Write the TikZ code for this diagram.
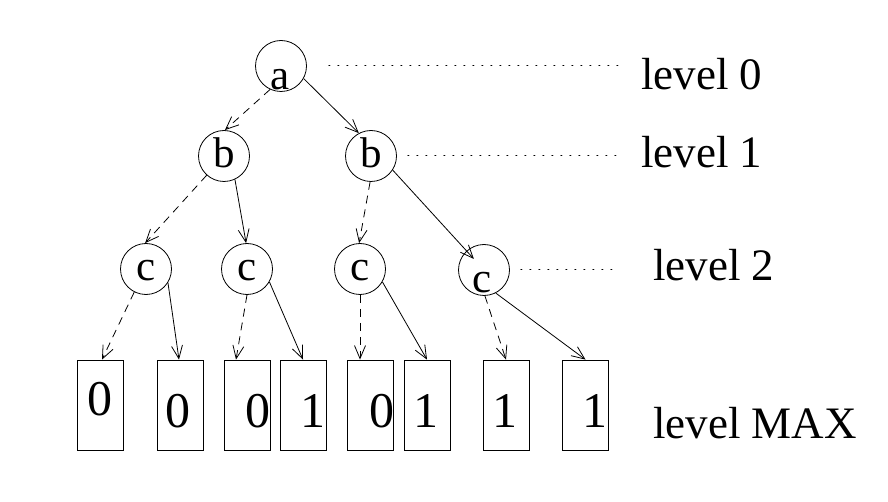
\documentclass[tikz,border=0pt]{standalone}
\usepackage{fontspec}
\setmainfont{Liberation Serif}
\usetikzlibrary{arrows.meta}

\tikzset{
  treenode/.style={draw, circle, minimum size=51pt, inner sep=0pt, line width=0.8pt},
  leafbox/.style={draw, rectangle, minimum width=46pt, minimum height=90pt, inner sep=0pt, line width=0.8pt},
  nodetext/.style={anchor=base, inner sep=0pt, font=\fontsize{43}{43}\selectfont},
  bittext/.style={anchor=base, inner sep=0pt, font=\fontsize{50}{50}\selectfont},
  leveltext/.style={anchor=base west, inner sep=0pt, font=\fontsize{45}{45}\selectfont},
  edge/.style={line width=0.8pt, -{Straight Barb[length=13pt, width=11pt, line width=0.8pt]}},
  zeroedge/.style={edge, dash pattern=on 8pt off 6pt},
  oneedge/.style={edge},
  levelline/.style={line width=1pt, dash pattern=on 1pt off 8pt, line cap=round}
}

\begin{document}
\begin{tikzpicture}[x=1pt, y=-1pt]
  \useasboundingbox (0,0) rectangle (888,502);

  % decision tree nodes
  \node[treenode] (a)  at (281,66)  {};
  \node[treenode] (b1) at (224,156) {};
  \node[treenode] (b2) at (371,156) {};
  \node[treenode] (c1) at (146,269) {};
  \node[treenode] (c2) at (247,269) {};
  \node[treenode] (c3) at (360,269) {};
  \node[treenode] (c4) at (484,270) {};

  \node[nodetext] (ta)  at (280,90)  {a};
  \node[nodetext] (tb1) at (224,168) {b};
  \node[nodetext] (tb2) at (371,168) {b};
  \node[nodetext] (tc1) at (146,281) {c};
  \node[nodetext] (tc2) at (247,281) {c};
  \node[nodetext] (tc3) at (360,281) {c};
  \node[nodetext] (tc4) at (482,293) {c};

  % terminal boxes
  \node[leafbox] (L1) at (100,405)   {};
  \node[leafbox] (L2) at (180,405)   {};
  \node[leafbox] (L3) at (247,405)   {};
  \node[leafbox] (L4) at (303,405)   {};
  \node[leafbox] (L5) at (370.5,405) {};
  \node[leafbox] (L6) at (427,405)   {};
  \node[leafbox] (L7) at (506,405)   {};
  \node[leafbox] (L8) at (585.5,405) {};

  \node[bittext] (v1) at (99.5,415) {0};
  \node[bittext] (v2) at (178,427)  {0};
  \node[bittext] (v3) at (257.5,427) {0};
  \node[bittext] (v4) at (313,427)  {1};
  \node[bittext] (v5) at (381.5,427) {0};
  \node[bittext] (v6) at (425.5,427) {1};
  \node[bittext] (v7) at (504.5,427) {1};
  \node[bittext] (v8) at (594.5,427) {1};

  % level labels
  \node[leveltext] (lab0) at (641,90)  {level 0};
  \node[leveltext] (lab1) at (641,168) {level 1};
  \node[leveltext] (lab2) at (653,281) {level 2};
  \node[leveltext] (labM) at (653,438) {level MAX};

  % dotted guides to the labels
  \draw[levelline] ([xshift=22pt]a.east)  -- ([xshift=-16pt]lab0.west |- a.east);
  \draw[levelline] ([xshift=11pt]b2.east) -- ([xshift=-21pt]lab1.west |- b2.east);
  \draw[levelline] ([xshift=11pt]c4.east) -- ([xshift=-41pt]lab2.west |- c4.east);

  % edges: dashed = 0 branch, solid = 1 branch
  \draw[zeroedge] (a.245)  -- (b1.88);
  \draw[oneedge]  (a.-29)  -- (b2.118);

  \draw[zeroedge] (b1.228) -- (c1.92);
  \draw[oneedge]  (b1.-65) -- (c2.92);
  \draw[zeroedge] (b2.-92) -- (c3.92);
  \draw[oneedge, shorten >=15pt] (b2.-33) -- (c4.center);

  \draw[zeroedge] (c1.243) -- ([xshift=2pt]L1.north);
  \draw[oneedge]  (c1.-32) -- ([xshift=-1pt]L2.north);
  \draw[zeroedge] (c2.-90) -- ([xshift=-11pt]L3.north);
  \draw[oneedge]  (c2.-30) -- (L4.north);
  \draw[zeroedge] (c3.-90) -- ([xshift=-10.5pt]L5.north);
  \draw[oneedge]  (c3.-30) -- (L6.north);
  \draw[zeroedge] (c4.-88) -- (L7.north);
  \draw[oneedge]  (c4.-63) -- (L8.north);
\end{tikzpicture}
\end{document}
